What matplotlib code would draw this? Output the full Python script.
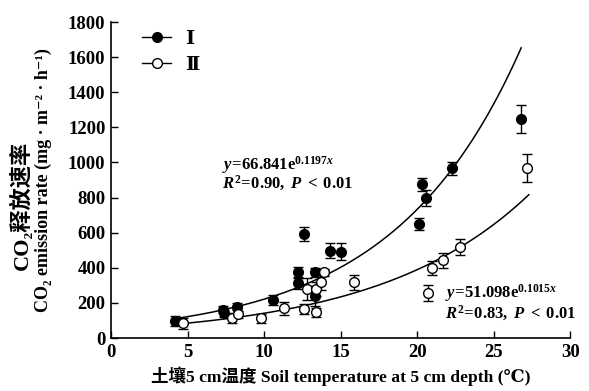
import numpy as np
import matplotlib
matplotlib.use("Agg")
import matplotlib.pyplot as plt
from matplotlib.font_manager import FontProperties
from matplotlib.lines import Line2D

plt.rcParams['font.family'] = ['Liberation Serif', 'DejaVu Serif', 'Noto Sans CJK SC']
plt.rcParams['mathtext.fontset'] = 'custom'
plt.rcParams['mathtext.rm'] = 'Liberation Serif:bold'
plt.rcParams['mathtext.it'] = 'Liberation Serif:italic:bold'
plt.rcParams['mathtext.bf'] = 'Liberation Serif:bold'

# Data
temp_I = [4.2, 7.3, 7.4, 8.2, 10.6, 12.2, 12.2, 12.6, 13.3, 13.3, 14.3, 15.0, 20.1, 20.3, 20.6, 22.3, 26.8]
co2_I = [97, 160, 142, 177, 216, 375, 311, 592, 374, 239, 497, 491, 649, 875, 799, 966, 1249]
err_I = [30, 20, 20, 20, 30, 28, 30, 40, 25, 57, 43, 48, 35, 35, 45, 35, 80]

temp_II = [4.7, 7.9, 8.3, 9.8, 11.3, 12.6, 12.8, 13.4, 13.4, 13.7, 13.9, 15.9, 20.7, 21.0, 21.7, 22.8, 27.2]
co2_II = [84, 115, 135, 112, 169, 165, 279, 146, 279, 317, 374, 318, 258, 397, 442, 520, 970]
err_II = [30, 30, 20, 25, 38, 30, 62, 25, 40, 45, 20, 43, 45, 40, 45, 45, 80]

fit_I = (66.841, 0.1197)
fit_II = (51.098, 0.1015)
fit_range_I = (4.0, 26.8)
fit_range_II = (4.0, 27.3)

xticks = [0, 5, 10, 15, 20, 25, 30]
yticks = [0, 200, 400, 600, 800, 1000, 1200, 1400, 1600, 1800]

fig = plt.figure(figsize=(5.89, 3.91), dpi=100)
ax = fig.add_axes([0.1885, 0.1355, 0.7795, 0.8082])

ax.errorbar(temp_I, co2_I, yerr=err_I, fmt='o', color='black', mfc='black', mec='black',
            ms=7, capsize=3.5, elinewidth=1.0, capthick=1.0, zorder=3)
ax.errorbar(temp_II, co2_II, yerr=err_II, fmt='o', color='black', mfc='white', mec='black',
            ms=7, mew=1.0, capsize=3.5, elinewidth=1.0, capthick=1.0, zorder=3)

for (a, b), (x0, x1) in [(fit_I, fit_range_I), (fit_II, fit_range_II)]:
    xs = np.linspace(x0, x1, 200)
    ax.plot(xs, a * np.exp(b * xs), color='black', lw=1.1, zorder=2)

ax.set_xlim(0, 30)
ax.set_ylim(0, 1800)
ax.set_xticks(xticks)
ax.set_yticks(yticks)
ax.spines['top'].set_visible(False)
ax.spines['right'].set_visible(False)
for s in ['left', 'bottom']:
    ax.spines[s].set_linewidth(1.2)
ax.tick_params(direction='in', length=5, width=1.0, labelsize=13.5, pad=4)
for lab in ax.get_xticklabels() + ax.get_yticklabels():
    lab.set_fontweight('bold')

ax.set_xlabel('土壤5 cm温度 Soil temperature at 5 cm depth (℃)', fontsize=12.6, fontweight='bold', labelpad=4)

fig.text(0.037, 0.476, 'CO₂释放速率', rotation=90, ha='center', va='center', fontsize=16, fontweight='bold')
fig.text(0.073, 0.54, 'CO₂ emission rate (mg · m⁻² · h⁻¹)', rotation=90, ha='center', va='center',
         fontsize=13, fontweight='bold')

eq_fs = 12
ax.text(7.25, 985, r'$\mathit{y}\!=\!\mathrm{66.841e}^{\mathrm{0.1197}\mathit{x}}$', fontsize=eq_fs, ha='left', va='center')
ax.text(7.25, 880, r'$\mathit{R}^{\mathrm{2}}\!=\!\mathrm{0.90,}\ \mathit{P}\;<\;\mathrm{0.01}$', fontsize=eq_fs, ha='left', va='center')
ax.text(21.8, 256, r'$\mathit{y}\!=\!\mathrm{51.098e}^{\mathrm{0.1015}\mathit{x}}$', fontsize=eq_fs, ha='left', va='center')
ax.text(21.8, 140, r'$\mathit{R}^{\mathrm{2}}\!=\!\mathrm{0.83,}\ \mathit{P}\;<\;\mathrm{0.01}$', fontsize=eq_fs, ha='left', va='center')

handles = [Line2D([], [], color='black', lw=1.0, marker='o', ms=7, mfc='black', mec='black'),
           Line2D([], [], color='black', lw=1.0, marker='o', ms=7, mfc='white', mec='black')]
leg = ax.legend(handles, ['Ⅰ', 'Ⅱ'], loc='upper left', bbox_to_anchor=(0.03, 1.03), frameon=False,
                handlelength=1.5, handletextpad=0.7, labelspacing=0.45,
                prop=FontProperties(family=['Liberation Serif', 'DejaVu Serif', 'Noto Sans CJK SC'], weight='bold', size=14))

fig.savefig('out.png', dpi=100)
